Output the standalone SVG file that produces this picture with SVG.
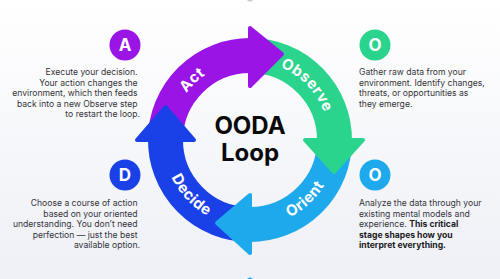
<svg xmlns="http://www.w3.org/2000/svg" width="500" height="279" viewBox="0 0 500 279">
<defs>
<linearGradient id="bg" x1="0" y1="0" x2="0" y2="1">
<stop offset="0" stop-color="#FFFFFF"/>
<stop offset="1" stop-color="#EEF0F6"/>
</linearGradient>
<path id="topArc" d="M171,140 A79,79 0 0 1 329,140"/>
<path id="botArc" d="M163,140 A87,87 0 0 0 337,140"/>
</defs>
<style>
.body{fill:none;stroke-width:35;stroke-linecap:butt}
.head{stroke-width:4;stroke-linejoin:round}
.lbl{font-family:Inter,"Noto Sans",sans-serif;font-weight:700;font-size:15px;letter-spacing:0.4px;fill:#FFFFFF}
.title{font-family:Inter,"Noto Sans",sans-serif;font-weight:700;font-size:24px;fill:#0A0A0A}
.desc{font-family:Inter,"Noto Sans",sans-serif;font-size:8.6px;fill:#333338}
.b{font-weight:700;fill:#1A1A1E}
.badge{font-family:Inter,"Noto Sans",sans-serif;font-weight:700;font-size:17px;fill:#FFFFFF}
.purple{fill:#9B14E6;stroke:#9B14E6}
.green{fill:#2AD48D;stroke:#2AD48D}
.lblue{fill:#1DA9EC;stroke:#1DA9EC}
.blue{fill:#1A40E8;stroke:#1A40E8}
</style>
<rect width="500" height="279" fill="url(#bg)"/>
<ellipse cx="250" cy="-1" rx="3" ry="2.5" fill="#C8CAD0"/>
<ellipse cx="250" cy="280" rx="3" ry="2.5" fill="#1DA9EC"/>

<g id="connectors">
<path class="body" stroke="#9B14E6" d="M165.5,140 A84.5,84.5 0 0 1 251.47,55.51"/>
<path class="body" stroke="#2AD48D" d="M250,55.5 A84.5,84.5 0 0 1 334.49,141.47"/>
<path class="body" stroke="#1DA9EC" d="M334.5,140 A84.5,84.5 0 0 1 248.53,224.49"/>
<path class="body" stroke="#1A40E8" d="M250,224.5 A84.5,84.5 0 0 1 165.51,138.53"/>
<polygon class="head purple" points="250,86 250,28 282,54"/>
<polygon class="head green" points="305,140 363,140 334,172"/>
<polygon class="head lblue" points="250,195 250,253 217,223"/>
<polygon class="head blue" points="194,140 137,140 165.5,107"/>
</g>

<g id="ring-labels">
<text class="lbl"><textPath href="#topArc" startOffset="25.6%" text-anchor="middle">Act</textPath></text>
<text class="lbl"><textPath href="#topArc" startOffset="75.6%" text-anchor="middle">Observe</textPath></text>
<text class="lbl"><textPath href="#botArc" startOffset="23.9%" text-anchor="middle">Decide</textPath></text>
<text class="lbl"><textPath href="#botArc" startOffset="73.9%" text-anchor="middle">Orient</textPath></text>
</g>

<g id="center-title">
<text class="title" x="250" y="134" text-anchor="middle">OODA</text>
<text class="title" x="250" y="161" text-anchor="middle">Loop</text>
</g>

<g id="node-act">
<circle cx="125" cy="45" r="15.5" fill="#9B14E6"/>
<text class="badge" x="125" y="51" text-anchor="middle">A</text>
<text class="desc" text-anchor="end">
<tspan x="140" y="75">Execute your decision.</tspan>
<tspan x="140" y="85.5">Your action changes the</tspan>
<tspan x="140" y="96">environment, which then feeds</tspan>
<tspan x="140" y="106.5">back into a new Observe step</tspan>
<tspan x="140" y="117">to restart the loop.</tspan>
</text>
</g>

<g id="node-observe">
<circle cx="375" cy="45" r="15.5" fill="#2AD48D"/>
<text class="badge" x="375" y="51" text-anchor="middle">O</text>
<text class="desc">
<tspan x="359" y="75">Gather raw data from your</tspan>
<tspan x="359" y="85.5">environment. Identify changes,</tspan>
<tspan x="359" y="96">threats, or opportunities as</tspan>
<tspan x="359" y="106.5">they emerge.</tspan>
</text>
</g>

<g id="node-decide">
<circle cx="125" cy="175" r="15.5" fill="#1A40E8"/>
<text class="badge" x="125" y="181" text-anchor="middle">D</text>
<text class="desc" text-anchor="end">
<tspan x="140" y="206">Choose a course of action</tspan>
<tspan x="140" y="216.5">based on your oriented</tspan>
<tspan x="140" y="227">understanding. You don’t need</tspan>
<tspan x="140" y="237.5">perfection — just the best</tspan>
<tspan x="140" y="248">available option.</tspan>
</text>
</g>

<g id="node-orient">
<circle cx="375" cy="175" r="15.5" fill="#1DA9EC"/>
<text class="badge" x="375" y="181" text-anchor="middle">O</text>
<text class="desc">
<tspan x="359" y="206">Analyze the data through your</tspan>
<tspan x="359" y="216.5">existing mental models and</tspan>
<tspan x="359" y="227">experience. <tspan class="b">This critical</tspan></tspan>
<tspan class="b" x="359" y="237.5">stage shapes how you</tspan>
<tspan class="b" x="359" y="248">interpret everything.</tspan>
</text>
</g>
</svg>
